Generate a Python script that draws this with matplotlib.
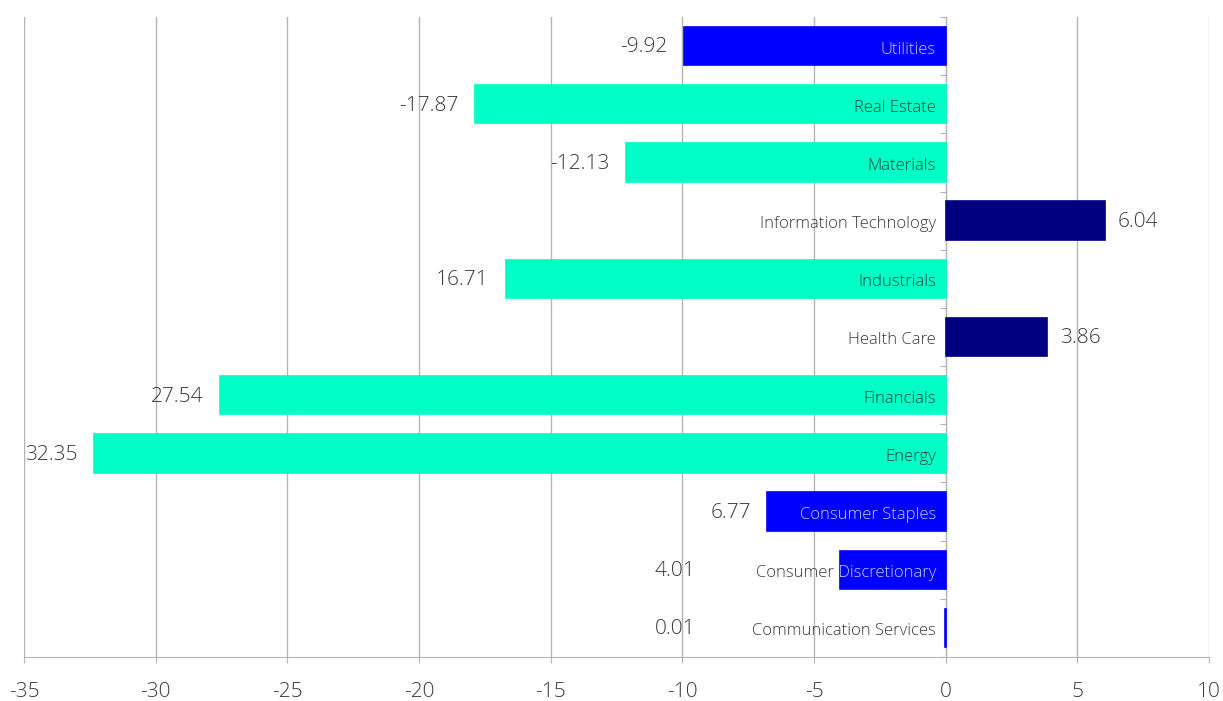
import matplotlib.pyplot as plt
import numpy as np

plt.rcParams['font.family'] = ['Open Sans', 'DejaVu Sans']

# top to bottom as shown
sectors = ['Utilities', 'Real Estate', 'Materials', 'Information Technology',
           'Industrials', 'Health Care', 'Financials', 'Energy',
           'Consumer Staples', 'Consumer Discretionary', 'Communication Services']
values = [-9.92, -17.87, -12.13, 6.04, -16.71, 3.86, -27.54, -32.35, -6.77, -4.01, -0.01]
value_text = ['-9.92', '-17.87', '-12.13', '6.04', '16.71', '3.86', '27.54', '32.35',
              '6.77', '4.01', '0.01']
groups = ['blue', 'aqua', 'aqua', 'navy', 'aqua', 'navy', 'aqua', 'aqua',
          'blue', 'blue', 'blue']

bar_col = {'blue': '#0000ff', 'aqua': '#00ffc6', 'navy': '#000080'}
text_col = {'blue': '#c8c8ff', 'aqua': '#10433a', 'navy': '#c8c8ff'}
gray = '#3a3a3a'

fig = plt.figure(figsize=(12.23, 7.01), dpi=100)
ax = fig.add_axes([0.0196, 0.0628, 0.969, 0.913])

y = np.arange(len(sectors))
cols = [bar_col[g] for g in groups]
bars = ax.barh(y, values, height=0.66, color=cols, edgecolor=cols,
               linewidth=1.2, zorder=3)

ax.set_xlim(-35, 10)
ax.set_ylim(len(sectors) - 0.5, -0.5)
ax.set_xticks(np.arange(-35, 11, 5))
ax.set_xticklabels([str(t) for t in range(-35, 11, 5)])
ax.grid(axis='x', color='#b4b4b4', linewidth=1, zorder=0)
ax.set_axisbelow(True)

for s in ['top', 'right']:
    ax.spines[s].set_visible(False)
ax.spines['left'].set_position(('data', 0))
ax.spines['left'].set_color('#b4b4b4')
ax.spines['bottom'].set_color('#b4b4b4')
ax.set_yticks(np.arange(-0.5, len(sectors), 1))
ax.set_yticklabels([])
ax.tick_params(axis='y', length=4, color='#b4b4b4')
ax.tick_params(axis='x', length=4, color='#b4b4b4', pad=14, labelsize=15, labelcolor=gray)
for lab in ax.get_xticklabels():
    lab.set_fontweight('light')

for i, (b, v, t, g) in enumerate(zip(bars, values, value_text, groups)):
    # sector name: gray under the bar, tinted copy on the bar
    ax.annotate(sectors[i], (0, i), xytext=(-7, -2.5), textcoords='offset points',
                ha='right', va='center', fontsize=12, color=gray,
                fontweight='light', zorder=1)
    txt = ax.annotate(sectors[i], (0, i), xytext=(-7, -2.5), textcoords='offset points',
                      ha='right', va='center', fontsize=12, color=text_col[g],
                      fontweight='light', zorder=4)
    txt.set_clip_path(b)
    # value label
    if sectors[i] in ('Consumer Discretionary', 'Communication Services'):
        ax.annotate(t, (-9.5, i), xytext=(0, -1), textcoords='offset points',
                    ha='right', va='center', fontsize=15,
                    color=gray, fontweight='light', zorder=5)
    elif v < 0:
        ax.annotate(t, (v, i), xytext=(-12, -1), textcoords='offset points',
                    ha='right', va='center', fontsize=15, color=gray,
                    fontweight='light', zorder=5)
    else:
        ax.annotate(t, (v, i), xytext=(9, -1), textcoords='offset points',
                    ha='left', va='center', fontsize=15, color=gray,
                    fontweight='light', zorder=5)

plt.savefig('out.png', dpi=100)
